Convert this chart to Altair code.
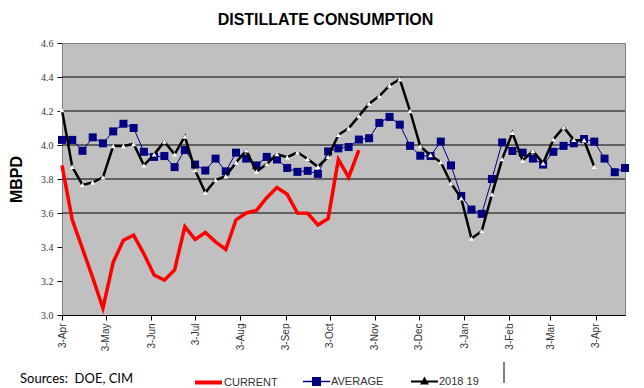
import altair as alt
import pandas as pd

# ---------------- data ----------------
start_date = "2020-04-03"
n_weeks = 56
week_dates = [(pd.Timestamp(start_date) + pd.Timedelta(weeks=i)).strftime("%Y-%m-%d") for i in range(n_weeks)]

current = [3.88, 3.56, 3.39, 3.22, 3.04, 3.31, 3.44, 3.47, 3.36, 3.235,
           3.205, 3.265, 3.52, 3.445, 3.485, 3.43, 3.386, 3.56, 3.60, 3.615,
           3.69, 3.75, 3.71, 3.60, 3.598, 3.53, 3.567, 3.915, 3.81, 3.97]

average = [4.03, 4.03, 3.966, 4.045, 4.01, 4.08, 4.125, 4.10, 3.96, 3.93,
           3.935, 3.87, 3.97, 3.885, 3.85, 3.92, 3.845, 3.955, 3.92, 3.88,
           3.93, 3.915, 3.865, 3.842, 3.848, 3.83, 3.962, 3.98, 3.988, 4.032,
           4.04, 4.13, 4.165, 4.12, 3.995, 3.937, 3.935, 4.02, 3.88, 3.70,
           3.62, 3.595, 3.80, 4.015, 3.965, 3.955, 3.92, 3.885, 3.96, 3.995,
           4.01, 4.035, 4.02, 3.92, 3.84, 3.865]

prior = [4.205, 3.872, 3.765, 3.78, 3.81, 3.994, 3.994, 4.006, 3.88, 3.945,
         4.02, 3.945, 4.05, 3.852, 3.72, 3.794, 3.816, 3.897, 3.968, 3.843,
         3.888, 3.946, 3.928, 3.957, 3.918, 3.872, 3.93, 4.06, 4.098, 4.17,
         4.243, 4.288, 4.35, 4.387, 4.20, 3.992, 3.94, 3.90, 3.775, 3.686,
         3.45, 3.493, 3.71, 3.917, 4.072, 3.908, 3.965, 3.892, 4.033, 4.104,
         4.03, 4.028, 3.872]

series_names = ["CURRENT", "AVERAGE", "2018 19"]
series_colors = ["#FF0000", "#000080", "#000000"]

y_ticks = [3.0, 3.2, 3.4, 3.6, 3.8, 4.0, 4.2, 4.4, 4.6]
grid_values = [3.6, 3.8, 4.0, 4.2, 4.4]
x_tick_months = [(2020, 4), (2020, 5), (2020, 6), (2020, 7), (2020, 8), (2020, 9),
                 (2020, 10), (2020, 11), (2020, 12), (2021, 1), (2021, 2), (2021, 3),
                 (2021, 4)]
x_domain_end = (2021, 4, 23)

title_text = "DISTILLATE CONSUMPTION"
y_title = "MBPD"
source_text = "Sources:\u00a0 DOE, CIM"

# ---------------- frames ----------------
cur_df = pd.DataFrame({"date": week_dates[:len(current)], "v": current, "series": series_names[0]})
avg_df = pd.DataFrame({"date": week_dates[:len(average)], "v": average, "series": series_names[1]})
old_df = pd.DataFrame({"date": week_dates[:len(prior)], "v": prior, "series": series_names[2]})
grid_df = pd.DataFrame({"v": grid_values})
src_df = pd.DataFrame({"t": [source_text]})

sans = "Liberation Sans"

x_scale = alt.Scale(type="utc",
                    domain=[alt.DateTime(year=2020, month=4, date=3, utc=True),
                            alt.DateTime(year=x_domain_end[0], month=x_domain_end[1], date=x_domain_end[2], utc=True)])
y_scale = alt.Scale(domain=[3.0, 4.6], nice=False, zero=False)

X = alt.X("date:T", scale=x_scale, title=None,
          axis=alt.Axis(values=[alt.DateTime(year=yy, month=mm, date=3, utc=True) for yy, mm in x_tick_months],
                        format="%-d-%b", labelAngle=270, labelFont=sans, labelFontSize=10,
                        labelColor="#333333", tickColor="#000000", tickSize=5, labelPadding=3,
                        domainColor="#000000", grid=False, labelOverlap=False, labelFlush=False))
y_axis = alt.Axis(values=y_ticks, format=".1f", labelFont="Liberation Serif", labelFontSize=10,
                  labelColor="#333333", tickColor="#000000", tickSize=5, labelPadding=4,
                  domainColor="#808080", grid=False, title=y_title, titleFont=sans,
                  titleFontSize=16, titleFontWeight="bold", titleColor="#000000",
                  titleAngle=270, titleX=-46, titleY=136, titleAlign="center",
                  titleBaseline="middle")
Y = alt.Y("v:Q", scale=y_scale, axis=y_axis, title=y_title)


def legend_for(x, shape, stroke_w, fill=None, stroke=None):
    kw = dict(title=None, orient="none", legendX=x, legendY=324, direction="horizontal",
              symbolType=shape, symbolSize=729, symbolStrokeWidth=stroke_w,
              labelFont=sans, labelFontSize=11, labelColor="#333333", labelOffset=0,
              padding=0, symbolOpacity=1)
    if fill:
        kw["symbolFillColor"] = fill
    if stroke:
        kw["symbolStrokeColor"] = stroke
    return alt.Legend(**kw)


grid = alt.Chart(grid_df).mark_rule(color="#000000", strokeWidth=1).encode(y=Y)

cur_line = alt.Chart(cur_df).mark_line(strokeWidth=3.5).encode(
    x=X, y=Y,
    color=alt.Color("series:N", scale=alt.Scale(domain=[series_names[0]], range=[series_colors[0]]),
                    legend=legend_for(131, "M-1,0H1", 4)))

avg_line = alt.Chart(avg_df).mark_line(color=series_colors[1], strokeWidth=1).encode(x=X, y=Y)
avg_pts = alt.Chart(avg_df).mark_point(shape="square", filled=True, size=64, opacity=1).encode(
    x=X, y=Y,
    color=alt.Color("series:N", scale=alt.Scale(domain=[series_names[1]], range=[series_colors[1]]),
                    legend=legend_for(240, "M-1,0H1M-0.28,-0.28H0.28V0.28H-0.28Z", 1.5,
                                      stroke=series_colors[1])))

old_line = alt.Chart(old_df).mark_line(strokeWidth=2.5).encode(
    x=X, y=Y,
    color=alt.Color("series:N", scale=alt.Scale(domain=[series_names[2]], range=[series_colors[2]]),
                    legend=legend_for(348, "M-1,0H1M0,-0.22L0.2,0.14H-0.2Z", 2, fill="#DDDDDD")))
old_pts = alt.Chart(old_df).mark_point(shape="triangle-up", filled=True, fill="#FFFFFF",
                                       size=25, opacity=1).encode(x=X, y=Y)

src = alt.Chart(src_df).mark_text(align="left", baseline="alphabetic", font="Lato",
                                  fontSize=13, color="#000000").encode(
    x=alt.value(-42), y=alt.value(340), text="t:N")

vrule = alt.Chart(src_df).mark_rule(color="#000000", strokeWidth=1).encode(
    x=alt.value(442), y=alt.value(319), y2=alt.value(340))

chart = alt.layer(grid, cur_line, avg_line, avg_pts, old_line, old_pts, src, vrule).resolve_scale(
    color="independent"
).properties(
    width=563, height=272,
    title=alt.TitleParams(title_text, font=sans, fontSize=16, fontWeight="bold", color="#000000",
                          anchor="middle", dx=-18, offset=10),
    autosize=alt.AutoSizeParams(type="none"),
    padding={"left": 54, "top": 35, "right": 10, "bottom": 73},
    background="#FFFFFF",
).configure_view(fill="#C0C0C0", stroke="#808080")

chart.save("out.html", embed_options={"renderer": "svg", "actions": False})
